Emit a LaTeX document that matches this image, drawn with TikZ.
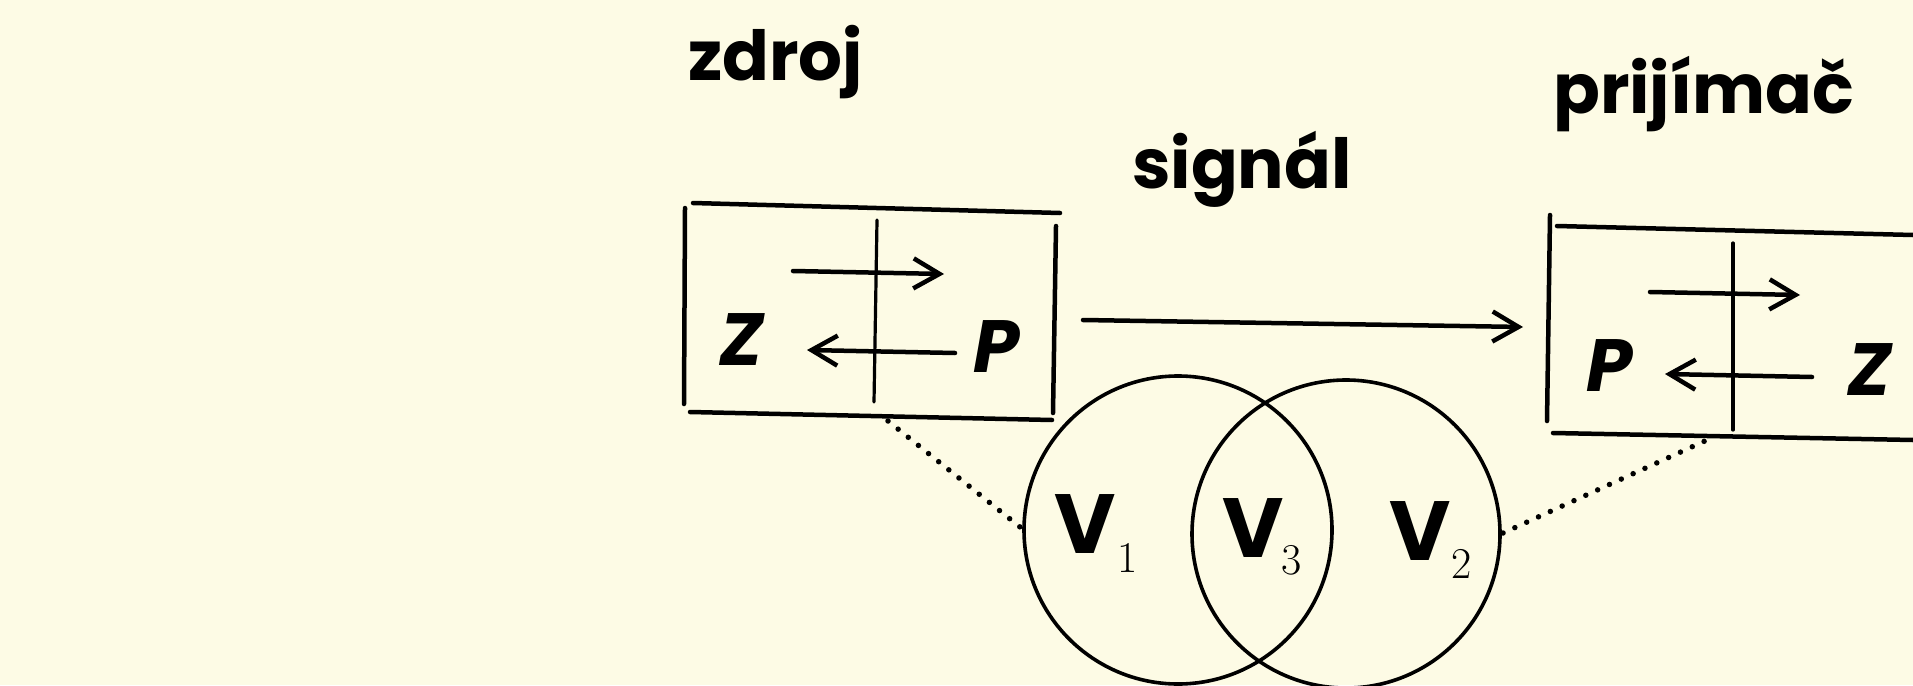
\documentclass[tikz,border=0pt]{standalone}
\usepackage{fontspec}
\newfontfamily\titlefont{Poppins}
\usetikzlibrary{arrows.meta}

\definecolor{paper}{RGB}{253,251,229}

\tikzset{
  ink/.style={line width=4.5pt, line cap=round},
  sigarrow/.style={ink, -{Straight Barb[length=26pt,width=30pt]}},
  dotline/.style={line width=5.5pt, line cap=round, dash pattern=on 0pt off 13pt},
  title/.style={font=\titlefont\bfseries\fontsize{69}{72}\selectfont, anchor=base west, inner sep=0pt},
  letter/.style={font=\titlefont\bfseries\itshape\fontsize{74}{80}\selectfont, inner sep=0pt},
  setname/.style={font=\titlefont\bfseries\fontsize{84}{90}\selectfont, inner sep=0pt, anchor=base},
  subnum/.style={font=\fontsize{44}{48}\selectfont, inner sep=0pt, anchor=base west},
}

\begin{document}
\begin{tikzpicture}[x=1pt, y=-1pt, line join=round]
    \fill[paper] (0,0) rectangle (1913,685);
    \useasboundingbox (0,0) rectangle (1913,685);

    % zdroj
    \coordinate (ZTL) at (693,203);
    \coordinate (ZTR) at (1060,213);
    \coordinate (ZBL) at (690,412);
    \coordinate (ZBR) at (1052,420);
    \coordinate (ZDot) at (888,421);
    \draw[ink] (ZTL) -- (ZTR);
    \draw[ink] (685,208) -- (684,404);
    \draw[ink] (ZBL) -- (ZBR);
    \draw[ink] (1056,226) -- (1053,413);
    \draw[ink, line width=3.2pt] (877,220) -- (874,402);
    \coordinate (ZA1) at (793,271);
    \coordinate (ZA2) at (944,274);
    \coordinate (ZB1) at (955,353);
    \coordinate (ZB2) at (807,350);
    \draw[sigarrow] (ZA1) -- (ZA2);
    \draw[sigarrow] (ZB1) -- (ZB2);
    \node[letter] (Z1) at (742,340) {Z};
    \node[letter] (P1) at (997,347) {P};

    % prijimac
    \coordinate (PTL) at (1557,226);
    \coordinate (PTR) at (1913,235);
    \coordinate (PBL) at (1553,433);
    \coordinate (PBR) at (1913,440);
    \coordinate (PDot) at (1707,440);
    \draw[ink] (PTL) -- (PTR);
    \draw[ink] (1550,215) -- (1547,421);
    \draw[ink] (PBL) -- (PBR);
    \draw[ink, line width=3.2pt] (1733,243) -- (1733,430);
    \coordinate (PA1) at (1650,292);
    \coordinate (PA2) at (1800,295);
    \coordinate (PB1) at (1812,377);
    \coordinate (PB2) at (1665,374);
    \draw[sigarrow] (PA1) -- (PA2);
    \draw[sigarrow] (PB1) -- (PB2);
    \node[letter] (P2) at (1610,366) {P};
    \node[letter] (Z2) at (1870,370) {Z};

    % signal
    \coordinate (S1) at (1083,320);
    \coordinate (S2) at (1523,327);
    \draw[sigarrow] (S1) -- (S2);

    % mnoziny
    \coordinate (C1) at (1178,530);
    \coordinate (C2) at (1346,534);
    \draw[line width=3.6pt] (C1) circle[radius=154pt];
    \draw[line width=3.6pt] (C2) circle[radius=154pt];
    \coordinate (E1) at (1020,527);
    \coordinate (E2) at (1503,533);
    \draw[dotline] (ZDot) -- (E1);
    \draw[dotline] (E2) -- (PDot);

    \node[setname] (V1) at (1085,553) {V};
    \node[subnum] (V1s) at (1117,572) {1};
    \node[setname] (V3) at (1253,557) {V};
    \node[subnum] (V3s) at (1281,574) {3};
    \node[setname] (V2) at (1420,560) {V};
    \node[subnum] (V2s) at (1451,578) {2};

    \node[title] (zdroj) at (688,80) {zdroj};
    \node[title] (prijimac) at (1553,113) {prijímač};
    \node[title] (signal) at (1132,188) {signál};
\end{tikzpicture}
\end{document}
